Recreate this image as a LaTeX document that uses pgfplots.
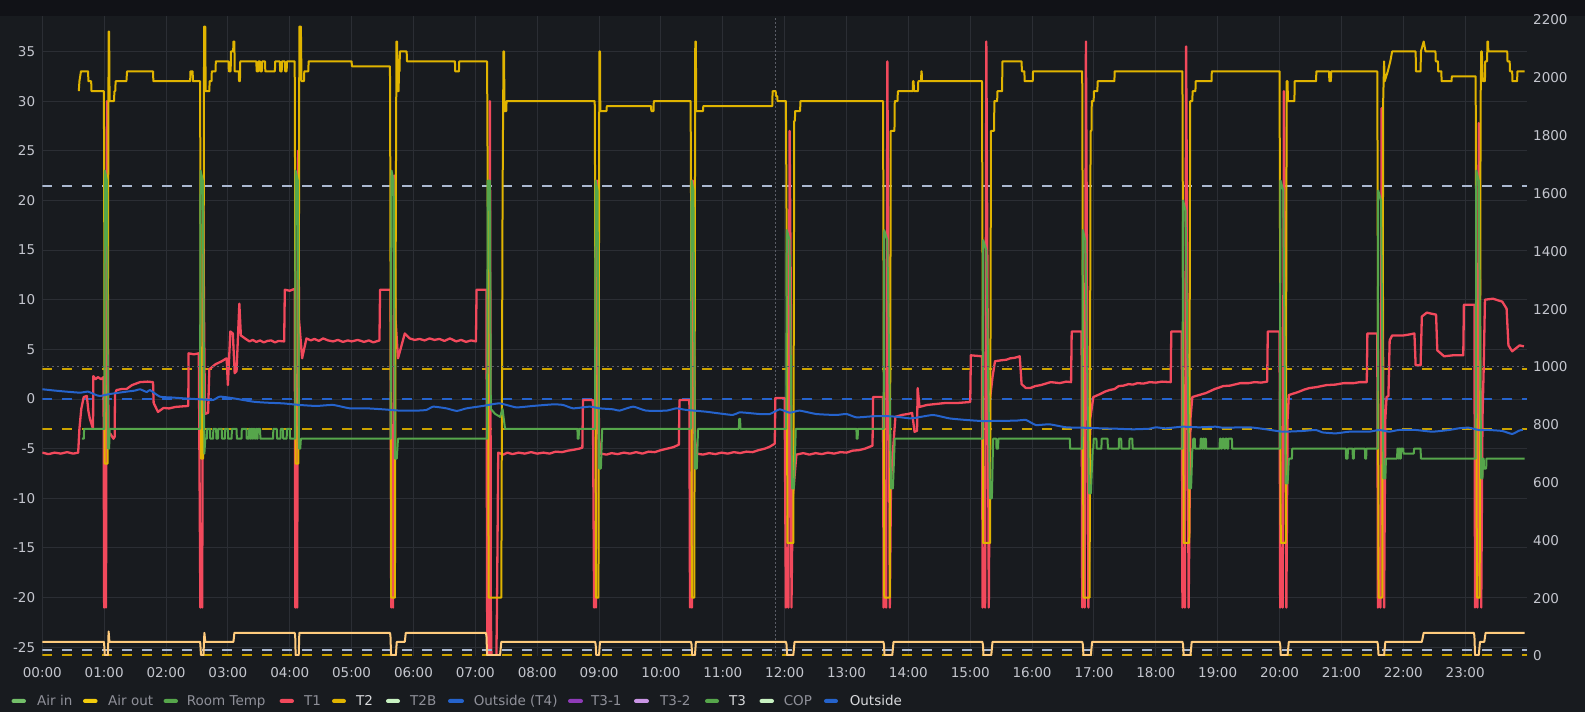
\documentclass[border=0pt]{standalone}
\usepackage{pgfplots}
\pgfplotsset{compat=1.18}
\usepackage{fontspec}
\setmainfont{DejaVu Sans}
\definecolor{bgc}{HTML}{181B1F}
\definecolor{topc}{HTML}{111217}
\definecolor{gridc}{HTML}{2B2E34}
\definecolor{tickc}{HTML}{C4C6CE}
\definecolor{legray}{HTML}{8F9099}
\definecolor{lewhite}{HTML}{D8D9DC}
\definecolor{cgold}{HTML}{E0B400}
\definecolor{cred}{HTML}{F2495C}
\definecolor{cgreen}{HTML}{56A64B}
\definecolor{cgreenl}{HTML}{73BF69}
\definecolor{cblue}{HTML}{2563CC}
\definecolor{cpeach}{HTML}{FFCB7D}
\definecolor{clight}{HTML}{AAB8D0}
\definecolor{cgoldd}{HTML}{CCA300}
\definecolor{cyellow}{HTML}{F2CC0C}
\definecolor{cpale}{HTML}{C8F2C2}
\definecolor{cpurple}{HTML}{8F3BB8}
\definecolor{cpurplel}{HTML}{CA95E5}
\definecolor{cdot}{HTML}{5A5D66}
\newcommand{\tfont}{\fontsize{13.5}{16}\selectfont}
\begin{document}
\begin{tikzpicture}[x=1pt,y=1pt]
\useasboundingbox (0,0) rectangle (1585,712);
\fill[bgc] (0,0) rectangle (1585,712);
\fill[topc] (0,696) rectangle (1585,712);
\begin{axis}[
  at={(42.3pt,56pt)}, anchor=south west,
  width=1484.7pt, height=640pt, scale only axis,
  xmin=0, xmax=24, ymin=-25.88, ymax=38.57,
  axis line style={draw=none}, major tick length=0pt,
  xtick={0,1,...,23},
  xticklabels={00:00,01:00,02:00,03:00,04:00,05:00,06:00,07:00,08:00,09:00,10:00,11:00,12:00,13:00,14:00,15:00,16:00,17:00,18:00,19:00,20:00,21:00,22:00,23:00},
  ytick={-25,-20,...,35},
  yticklabels={-25,-20,-15,-10,-5,0,5,10,15,20,25,30,35},
  grid=major, grid style={gridc, line width=1pt},
  xticklabel style={font=\tfont, text=tickc, anchor=base, inner sep=0pt, yshift=-22pt},
  yticklabel style={font=\tfont, text=tickc, anchor=east, inner sep=0pt, xshift=-7pt},
  every axis plot/.append style={no markers, line join=round},
]
% threshold-style dashed lines
\addplot[clight, line width=2pt, dash pattern=on 10pt off 10pt] coordinates {(0,21.5) (24,21.5)};
\addplot[cgoldd, line width=2pt, dash pattern=on 10pt off 10pt] coordinates {(0,3) (24,3)};
\addplot[cblue, line width=2pt, dash pattern=on 10pt off 10pt] coordinates {(0,0) (24,0)};
\addplot[cgoldd, line width=2pt, dash pattern=on 10pt off 10pt] coordinates {(0,-3) (24,-3)};
\addplot[cdot, line width=1pt, dash pattern=on 2pt off 2pt] coordinates {(11.85,-25.88) (11.85,38.57)};
% T1 (red)
\addplot[cred, line width=2.3pt] coordinates {
(0,-5.4) (0.1,-5.55) (0.2,-5.4) (0.3,-5.5) (0.4,-5.35) (0.5,-5.5) (0.58,-5.4) (0.6,-3) (0.63,-1) (0.67,0.2) (0.72,0.3) (0.745,-1.2) (0.77,-2) (0.81,-2.8) (0.82,-3) (0.825,2.3) (0.86,2.0) (0.9,2.2) (0.95,2.0) (0.99,2.2)
(1.0,-21) (1.015,-14) (1.03,-21) (1.045,30) (1.06,10) (1.07,-3.8) (1.1,-3.5) (1.15,-4) (1.17,-3.8) (1.175,0.5) (1.2,0.9) (1.28,1.0) (1.36,1.0) (1.45,1.4) (1.58,1.7) (1.7,1.75) (1.79,1.7) (1.8,-0.4) (1.87,-1.3) (1.96,-0.9) (2.05,-0.95) (2.15,-0.8) (2.25,-0.75) (2.36,-0.7) (2.365,4.6) (2.45,4.5) (2.53,4.6)
(2.555,-21) (2.57,-15) (2.585,-21) (2.6,22) (2.615,8) (2.63,-1.5) (2.68,-1.4) (2.70,3.0) (2.8,3.5) (2.9,3.8) (2.98,4.1) (3.0,1.4) (3.04,6.8) (3.08,6.6) (3.11,2.6) (3.14,2.8) (3.185,9.6) (3.21,6.4) (3.3,6.0) (3.35,5.8) (3.4,5.95) (3.46,5.75) (3.52,5.9) (3.58,5.7) (3.64,5.85) (3.7,5.9) (3.76,5.7) (3.82,5.85) (3.91,5.8) (3.92,11.0) (4.0,10.9) (4.08,11.1)
(4.09,-21) (4.105,-15) (4.12,-21) (4.135,25) (4.15,8) (4.2,4.1) (4.27,6.1) (4.34,5.9) (4.4,6.05) (4.47,5.85) (4.54,6.1) (4.62,5.9) (4.7,5.8) (4.78,5.95) (4.86,5.75) (4.94,5.9) (5.0,5.8) (5.1,5.95) (5.2,5.75) (5.28,5.9) (5.35,5.7) (5.45,5.9) (5.46,11.0) (5.63,11.0)
(5.64,-21) (5.655,-15) (5.67,-21) (5.69,22.5) (5.71,8) (5.75,4.1) (5.86,6.6) (5.94,6.1) (6.02,5.95) (6.1,6.05) (6.18,5.9) (6.26,6.1) (6.34,5.95) (6.42,6.05) (6.5,5.85) (6.59,6.1) (6.69,5.8) (6.77,5.95) (6.85,5.75) (6.93,5.9) (7.01,5.8) (7.02,11.0) (7.18,11.0)
(7.19,-21) (7.2,-26) (7.22,-26) (7.235,30) (7.245,5) (7.25,-21) (7.26,-26) (7.34,-26) (7.35,-21) (7.37,-5.4) (7.45,-5.6) (7.52,-5.4) (7.6,-5.55) (7.7,-5.4) (7.8,-5.5) (7.9,-5.35) (8.0,-5.5) (8.1,-5.4) (8.2,-5.5) (8.3,-5.3) (8.4,-5.35) (8.5,-5.2) (8.6,-5.1) (8.68,-5.0) (8.73,-4.9) (8.74,-0.1) (8.9,-0.1)
(8.92,-21) (8.935,-15) (8.95,-21) (8.965,22) (8.98,8) (9.0,-4) (9.03,-5.5) (9.12,-5.6) (9.2,-5.45) (9.3,-5.55) (9.4,-5.4) (9.5,-5.5) (9.6,-5.35) (9.7,-5.5) (9.8,-5.3) (9.9,-5.35) (10.0,-5.15) (10.1,-5.0) (10.2,-4.85) (10.29,-4.6) (10.3,-0.1) (10.46,-0.1)
(10.47,-21) (10.485,-15) (10.5,-21) (10.515,22) (10.53,8) (10.55,-4) (10.58,-5.5) (10.68,-5.6) (10.78,-5.45) (10.88,-5.55) (10.98,-5.4) (11.08,-5.5) (11.18,-5.35) (11.28,-5.45) (11.38,-5.3) (11.48,-5.35) (11.58,-5.15) (11.68,-5.0) (11.76,-4.8) (11.84,-4.5) (11.85,0.1) (12.0,0.1)
(12.02,-21) (12.04,-15) (12.06,-21) (12.08,27) (12.1,10) (12.11,-21) (12.13,-10) (12.19,-5.6) (12.3,-5.45) (12.4,-5.6) (12.5,-5.45) (12.6,-5.55) (12.7,-5.4) (12.8,-5.5) (12.9,-5.35) (13.0,-5.4) (13.1,-5.2) (13.2,-5.15) (13.3,-5.0) (13.42,-4.7) (13.43,0.2) (13.59,0.2)
(13.6,-21) (13.62,-15) (13.64,-21) (13.66,34) (13.68,10) (13.7,-21) (13.72,-8) (13.79,-1.8) (13.9,-1.6) (14.0,-1.5) (14.06,-1.4) (14.1,-3.3) (14.14,-3.2) (14.15,1.1) (14.18,-0.8) (14.3,-0.6) (14.45,-0.5) (14.6,-0.4) (14.8,-0.4) (15.0,-0.3) (15.01,4.4) (15.19,4.3)
(15.2,-21) (15.22,-15) (15.24,-21) (15.26,36) (15.28,10) (15.3,-21) (15.32,0) (15.36,2.2) (15.4,3.8) (15.5,3.9) (15.58,3.95) (15.65,4.1) (15.72,4.15) (15.8,4.3) (15.83,1.5) (15.9,1.1) (15.97,1.1) (16.05,1.3) (16.14,1.4) (16.22,1.55) (16.3,1.7) (16.45,1.6) (16.55,1.75) (16.63,1.7) (16.64,6.8) (16.8,6.8)
(16.81,-21) (16.83,-15) (16.85,-21) (16.87,36) (16.89,10) (16.91,-21) (16.94,-2) (16.99,0.2) (17.1,0.5) (17.18,0.75) (17.25,0.9) (17.33,1.0) (17.4,1.3) (17.48,1.35) (17.56,1.5) (17.63,1.45) (17.7,1.6) (17.8,1.55) (17.9,1.7) (18.0,1.65) (18.1,1.75) (18.24,1.7) (18.25,6.8) (18.42,6.8)
(18.43,-21) (18.45,-15) (18.47,-21) (18.49,35.5) (18.51,10) (18.53,-21) (18.56,-2) (18.59,0.2) (18.7,0.4) (18.81,0.6) (18.95,1.0) (19.09,1.3) (19.2,1.35) (19.37,1.6) (19.5,1.6) (19.6,1.7) (19.7,1.65) (19.8,1.75) (19.81,6.8) (20.0,6.8)
(20.01,-21) (20.03,-15) (20.05,-21) (20.07,31) (20.09,10) (20.11,-21) (20.13,-2) (20.15,0.4) (20.3,0.7) (20.4,0.95) (20.48,1.1) (20.6,1.2) (20.76,1.4) (20.9,1.45) (21.04,1.6) (21.2,1.6) (21.3,1.7) (21.41,1.7) (21.42,6.6) (21.58,6.6)
(21.59,-21) (21.61,-15) (21.63,-21) (21.65,29.3) (21.67,10) (21.69,-21) (21.71,-2) (21.73,0.2) (21.76,0.3) (21.78,5.9) (21.82,6.4) (22.0,6.4) (22.1,6.5) (22.18,6.6) (22.2,3.4) (22.28,3.4) (22.3,8.3) (22.38,8.7) (22.45,8.6) (22.53,8.5) (22.55,4.9) (22.66,4.3) (22.8,4.4) (22.97,4.4) (22.98,9.5) (23.15,9.5)
(23.16,-21) (23.18,-15) (23.2,-21) (23.22,27.8) (23.24,10) (23.26,-21) (23.28,-2) (23.3,3.1) (23.32,10.0) (23.45,10.1) (23.55,9.9) (23.6,9.8) (23.67,9.1) (23.70,5.4) (23.76,4.8) (23.82,5.1) (23.88,5.4) (23.95,5.3)
};
% T2 (gold)
\addplot[cgold, line width=2pt] coordinates {
(0.59,31) (0.6,32) (0.625,33) (0.74,33) (0.745,32) (0.79,32) (0.795,31) (0.995,31)
(1.0,23) (1.008,-6.5) (1.055,-6.5) (1.065,20) (1.072,37) (1.08,37) (1.088,30) (1.16,30) (1.165,31) (1.18,31) (1.185,32) (1.36,32) (1.37,33) (1.79,33) (1.795,32) (2.39,32) (2.395,33) (2.43,33) (2.435,32) (2.55,32)
(2.556,21.5) (2.565,-6) (2.6,-6) (2.61,20) (2.615,37.5) (2.635,37.5) (2.64,31) (2.70,31) (2.705,32) (2.735,32) (2.74,33) (2.80,33) (2.805,34) (3.01,34) (3.015,33) (3.045,33) (3.05,35) (3.085,35) (3.09,36) (3.105,36) (3.11,33) (3.175,33) (3.18,32) (3.195,32) (3.2,34) (3.46,34) (3.465,33) (3.49,33) (3.495,34) (3.52,34) (3.525,33) (3.55,33) (3.555,34) (3.6,34) (3.605,33) (3.76,33) (3.765,34) (3.84,34) (3.845,33) (3.87,33) (3.875,34) (3.92,34) (3.925,33) (3.95,33) (3.955,34) (4.08,34)
(4.086,22) (4.095,-6.5) (4.14,-6.5) (4.15,20) (4.155,37.5) (4.18,37.5) (4.19,32) (4.23,32) (4.235,33) (4.30,33) (4.305,34) (5.0,34) (5.005,33.5) (5.62,33.5)
(5.626,21.5) (5.64,-20) (5.70,-20) (5.715,20) (5.725,36) (5.735,36) (5.745,31) (5.76,31) (5.765,33) (5.775,33) (5.78,35) (5.89,35) (5.895,34) (6.67,34) (6.675,33) (6.735,33) (6.74,34) (7.19,34)
(7.2,21) (7.215,-20) (7.42,-20) (7.44,20) (7.455,35) (7.465,35) (7.47,29) (7.5,29) (7.505,30) (8.93,30)
(8.936,21) (8.95,-20) (8.99,-20) (9.0,20) (9.005,35) (9.015,35) (9.02,29) (9.12,29) (9.125,29.5) (9.84,29.5) (9.845,29) (9.88,29) (9.885,30) (10.48,30)
(10.486,21) (10.5,-20) (10.54,-20) (10.55,20) (10.555,36) (10.565,36) (10.57,29) (10.68,29) (10.685,29.5) (11.8,29.5) (11.805,31) (11.855,31) (11.86,30.5) (11.88,30.5) (11.885,30) (12.02,30)
(12.03,19) (12.045,-14.5) (12.14,-14.5) (12.155,28) (12.165,28) (12.17,29) (12.25,29) (12.255,30) (13.59,30)
(13.596,19) (13.61,-20) (13.70,-20) (13.715,27) (13.775,27) (13.78,30) (13.825,30) (13.83,31) (14.07,31) (14.075,32) (14.085,32) (14.09,31) (14.155,31) (14.16,32) (14.205,32) (14.21,33) (14.215,33) (14.22,32) (15.19,32)
(15.196,20) (15.21,-14.5) (15.32,-14.5) (15.335,27) (15.385,27) (15.39,30) (15.435,30) (15.44,31) (15.515,31) (15.52,34) (15.83,34) (15.835,33) (15.875,33) (15.88,32) (16.01,32) (16.015,33) (16.81,33)
(16.816,20) (16.83,-20) (16.93,-20) (16.945,27) (16.96,27) (16.965,30) (16.995,30) (17.0,31) (17.055,31) (17.06,32) (17.33,32) (17.335,33) (18.43,33)
(18.436,20) (18.45,-14.5) (18.54,-14.5) (18.555,30) (18.59,30) (18.595,31) (18.64,31) (18.645,32) (18.9,32) (18.905,33) (20.0,33)
(20.006,20) (20.02,-14.5) (20.1,-14.5) (20.115,32) (20.13,32) (20.135,30) (20.24,30) (20.245,32) (20.59,32) (20.595,33) (20.8,33) (20.805,32) (20.83,32) (20.835,33) (21.58,33)
(21.586,20) (21.6,-20) (21.66,-20) (21.675,30) (21.69,34) (21.7,32) (21.75,33) (21.79,34) (21.82,35) (22.2,35) (22.205,33) (22.28,33) (22.285,35) (22.33,36) (22.36,35) (22.52,35) (22.525,34) (22.56,34) (22.565,33) (22.615,33) (22.62,32) (22.78,32) (22.785,32.5) (23.17,32.5)
(23.176,20) (23.19,-20) (23.235,-20) (23.25,30) (23.26,35) (23.27,35) (23.285,32) (23.32,32) (23.325,34) (23.355,34) (23.36,36) (23.37,36) (23.375,35) (23.68,35) (23.685,34) (23.72,34) (23.725,33) (23.76,33) (23.765,32) (23.84,32) (23.845,33) (23.96,33)
};
% T3 (green)
\addplot[cgreen, line width=2pt] coordinates {
(0.64,-4) (0.672,-4) (0.675,-3) (1.005,-3) (1.012,23) (1.045,22) (1.065,-5) (1.08,-5) (1.09,-3) (2.55,-3) (2.558,23) (2.595,22) (2.62,-5.5) (2.635,-4) (2.66,-4) (2.665,-3) (2.71,-3) (2.715,-4) (2.76,-4) (2.765,-3) (2.81,-3) (2.815,-4) (2.84,-4) (2.845,-3) (2.9,-3) (2.905,-4) (2.95,-4) (2.955,-3) (3.0,-3) (3.005,-4) (3.06,-4) (3.065,-3) (3.14,-3) (3.145,-4) (3.22,-4) (3.225,-3) (3.3,-3) (3.305,-4) (3.34,-4) (3.345,-3) (3.36,-3) (3.365,-4) (3.375,-4) (3.38,-3) (3.395,-3) (3.4,-4) (3.41,-4) (3.415,-3) (3.43,-3) (3.435,-4) (3.445,-4) (3.45,-3) (3.465,-3) (3.47,-4) (3.48,-4) (3.485,-3) (3.52,-3) (3.525,-4) (3.73,-4) (3.735,-3) (3.79,-3) (3.795,-4) (3.85,-4) (3.855,-3) (3.89,-3) (3.895,-4) (3.95,-4) (3.955,-3) (4.0,-3) (4.005,-4) (4.088,-4)
(4.095,23) (4.13,22) (4.15,-5) (4.17,-5) (4.18,-4) (5.63,-4) (5.645,23) (5.68,22) (5.7,-6) (5.73,-6) (5.75,-4) (7.19,-4) (7.2,22) (7.235,22) (7.25,-1) (7.32,-1.5) (7.4,-1.8) (7.44,-1) (7.48,-3) (8.65,-3) (8.655,-4) (8.67,-4) (8.675,-3) (8.935,-3)
(8.945,22) (8.975,21) (9.0,-7) (9.03,-7) (9.05,-3) (10.485,-3) (10.495,22) (10.525,21) (10.55,-7) (10.58,-7) (10.6,-3) (11.26,-3) (11.265,-2) (11.28,-2) (11.285,-3) (12.025,-3)
(12.035,17) (12.08,16) (12.12,-9) (12.15,-9) (12.18,-3) (13.16,-3) (13.165,-4) (13.18,-4) (13.185,-3) (13.6,-3) (13.61,17) (13.66,16) (13.72,-9) (13.75,-9) (13.78,-4) (15.2,-4)
(15.21,16) (15.26,15) (15.32,-10) (15.35,-10) (15.37,-4) (15.42,-4) (15.425,-5) (15.45,-5) (15.455,-4) (16.61,-4) (16.615,-5) (16.81,-5)
(16.82,17) (16.86,16) (16.92,-9.5) (16.95,-9.5) (16.98,-5) (16.99,-5) (16.995,-4) (17.04,-4) (17.045,-5) (17.12,-5) (17.125,-4) (17.22,-4) (17.225,-5) (17.4,-5) (17.405,-4) (17.44,-4) (17.445,-5) (17.57,-5) (17.575,-4) (17.62,-4) (17.625,-5) (18.43,-5)
(18.44,20) (18.48,19) (18.54,-9) (18.57,-9) (18.59,-5) (18.6,-5) (18.605,-4) (18.63,-4) (18.635,-5) (18.72,-5) (18.725,-4) (18.74,-4) (18.745,-5) (18.76,-5) (18.765,-4) (18.78,-4) (18.785,-5) (18.795,-5) (18.8,-4) (18.81,-4) (18.815,-5) (19.03,-5) (19.035,-4) (19.05,-4) (19.055,-5) (19.07,-5) (19.075,-4) (19.1,-4) (19.105,-5) (19.12,-5) (19.125,-4) (19.15,-4) (19.155,-5) (19.17,-5) (19.175,-4) (19.23,-4) (19.235,-5) (20.005,-5)
(20.015,22) (20.06,21) (20.1,-8.5) (20.13,-8.5) (20.15,-6) (20.2,-6) (20.205,-5) (21.07,-5) (21.075,-6) (21.1,-6) (21.105,-5) (21.18,-5) (21.185,-6) (21.2,-6) (21.205,-5) (21.38,-5) (21.385,-6) (21.4,-6) (21.405,-5) (21.585,-5)
(21.595,21) (21.64,20) (21.68,-8) (21.71,-8) (21.72,-6) (21.9,-6) (21.905,-5) (21.92,-5) (21.925,-6) (21.93,-6) (21.935,-5) (21.95,-5) (21.955,-6) (21.96,-6) (21.965,-5) (22.0,-5) (22.005,-5.5) (22.17,-5.5) (22.175,-5) (22.28,-5) (22.285,-6) (23.17,-6)
(23.18,23) (23.22,22) (23.26,-8) (23.28,-8) (23.29,-6) (23.3,-6) (23.305,-7) (23.34,-7) (23.345,-6) (23.96,-6)
};
% Outside (blue)
\addplot[cblue, line width=2pt, smooth, tension=0.3] coordinates {
(0,0.98) (0.2,0.85) (0.39,0.74) (0.61,0.64) (0.74,0.74) (0.85,0.45) (0.93,0.3) (1.09,0.5) (1.36,0.74) (1.5,0.85) (1.58,0.98) (1.69,0.7) (1.74,0.9) (1.9,0.24) (2.1,0.15) (2.28,0.07) (2.55,-0.03) (2.76,-0.1) (2.87,0.24) (3.09,0.07) (3.41,-0.27) (3.63,-0.37) (3.89,-0.44) (4.16,-0.6) (4.43,-0.7) (4.7,-0.6) (4.97,-0.94) (5.24,-0.94) (5.51,-1.04) (5.78,-1.17) (6.05,-1.17) (6.21,-1.1) (6.32,-0.77) (6.53,-0.94) (6.7,-1.2) (6.86,-0.94) (7.12,-0.7) (7.39,-0.44) (7.66,-0.84) (7.93,-0.70) (8.26,-0.54) (8.42,-0.60) (8.58,-0.94) (8.85,-0.77) (9.01,-0.94) (9.23,-1.04) (9.33,-1.17) (9.55,-0.77) (9.76,-1.17) (10.09,-1.17) (10.25,-0.94) (10.41,-1.1) (10.73,-1.28) (11.16,-1.61) (11.27,-1.34) (11.59,-1.51) (11.76,-1.51) (11.92,-1.04) (12.08,-1.38) (12.24,-1.17) (12.51,-1.51) (12.83,-1.61) (13.0,-1.51) (13.16,-1.85) (13.4,-1.75) (13.59,-1.71) (13.8,-1.78) (14.02,-1.95) (14.13,-1.88) (14.4,-1.61) (14.66,-1.95) (14.93,-2.11) (15.2,-2.22) (15.5,-2.2) (15.74,-2.18) (15.9,-2.11) (16.06,-2.62) (16.28,-2.55) (16.55,-2.85) (16.82,-2.89) (17.1,-2.95) (17.36,-2.99) (17.63,-3.05) (17.9,-2.99) (18.0,-2.85) (18.16,-2.95) (18.43,-2.79) (18.7,-2.85) (18.97,-2.79) (19.08,-2.89) (19.51,-2.85) (19.78,-3.05) (20.05,-3.29) (20.37,-3.22) (20.59,-3.12) (20.69,-3.36) (20.91,-3.46) (21.13,-3.29) (21.45,-3.29) (21.61,-3.12) (21.77,-3.29) (21.93,-3.12) (22.2,-3.12) (22.47,-3.29) (22.74,-3.12) (22.9,-2.95) (23.06,-2.89) (23.22,-3.12) (23.38,-3.12) (23.6,-3.22) (23.76,-3.52) (23.87,-3.19) (23.93,-3.1)
};
\end{axis}
\begin{axis}[
  at={(42.3pt,56pt)}, anchor=south west,
  width=1484.7pt, height=640pt, scale only axis,
  xmin=0, xmax=24, ymin=0, ymax=2214,
  axis x line=none, axis y line*=right,
  axis line style={draw=none}, major tick length=0pt,
  ytick={0,200,...,2200},
  yticklabels={0,200,400,600,800,1000,1200,1400,1600,1800,2000,2200},
  yticklabel style={font=\tfont, text=tickc, anchor=west, inner sep=0pt, xshift=6pt},
  every axis plot/.append style={no markers, line join=round},
]
\addplot[cdot, line width=1pt, dash pattern=on 2pt off 3pt] coordinates {(0,1000) (24,1000)};
\addplot[clight, line width=2pt, dash pattern=on 10pt off 10pt] coordinates {(0,20) (24,20)};
\addplot[cgoldd, line width=2pt, dash pattern=on 10pt off 10pt] coordinates {(0,2) (24,2)};
\addplot[cpeach, line width=2pt] coordinates {
(0,49) (0.995,49) (1.0,40) (1.01,3) (1.06,3) (1.072,85) (1.085,49) (2.55,49) (2.555,40) (2.565,3) (2.605,3) (2.62,80) (2.635,49) (3.09,49) (3.105,80) (4.08,80) (4.088,70) (4.095,3) (4.145,3) (4.155,80) (5.62,80) (5.628,70) (5.638,3) (5.715,3) (5.73,49) (5.86,49) (5.875,80) (7.17,80) (7.18,70) (7.19,3) (7.40,3) (7.42,49) (8.935,49) (8.945,40) (8.955,3) (9.0,3) (9.015,49) (10.485,49) (10.495,40) (10.505,3) (10.55,3) (10.565,49) (12.02,49) (12.03,40) (12.04,3) (12.14,3) (12.16,49) (13.595,49) (13.605,40) (13.615,3) (13.74,3) (13.76,49) (15.195,49) (15.205,40) (15.215,3) (15.34,3) (15.36,49) (16.81,49) (16.82,40) (16.83,3) (16.95,3) (16.97,49) (18.43,49) (18.44,40) (18.45,3) (18.56,3) (18.58,49) (20.0,49) (20.01,40) (20.02,3) (20.13,3) (20.15,49) (21.58,49) (21.59,40) (21.6,3) (21.69,3) (21.71,49) (22.3,49) (22.33,80) (23.14,80) (23.15,70) (23.16,3) (23.22,3) (23.24,49) (23.31,49) (23.33,80) (23.96,80)
};
\end{axis}
% legend
\foreach \xa/\xb/\col in {11.5/26/cgreenl, 83/97.6/cyellow, 163.6/178/cgreen, 279.6/294/cred, 332/346/cgold, 386/400/cpale, 448/464/cblue, 568/583/cpurple, 634/649/cpurplel, 705/719/cgreen, 759.5/774/cpale, 824/838/cblue}
  {\fill[\col, rounded corners=2pt] (\xa,9) rectangle (\xb,13);}
\node[anchor=base west, inner sep=0pt, font=\tfont, text=legray] at (37,6) {Air in};
\node[anchor=base west, inner sep=0pt, font=\tfont, text=legray] at (108,6) {Air out};
\node[anchor=base west, inner sep=0pt, font=\tfont, text=legray] at (186.6,6) {Room Temp};
\node[anchor=base west, inner sep=0pt, font=\tfont, text=legray] at (304,6) {T1};
\node[anchor=base west, inner sep=0pt, font=\tfont, text=lewhite] at (356,6) {T2};
\node[anchor=base west, inner sep=0pt, font=\tfont, text=legray] at (410,6) {T2B};
\node[anchor=base west, inner sep=0pt, font=\tfont, text=legray] at (473.6,6) {Outside (T4)};
\node[anchor=base west, inner sep=0pt, font=\tfont, text=legray] at (591,6) {T3-1};
\node[anchor=base west, inner sep=0pt, font=\tfont, text=legray] at (660,6) {T3-2};
\node[anchor=base west, inner sep=0pt, font=\tfont, text=lewhite] at (729,6) {T3};
\node[anchor=base west, inner sep=0pt, font=\tfont, text=legray] at (783.6,6) {COP};
\node[anchor=base west, inner sep=0pt, font=\tfont, text=lewhite] at (849.6,6) {Outside};
\end{tikzpicture}
\end{document}
